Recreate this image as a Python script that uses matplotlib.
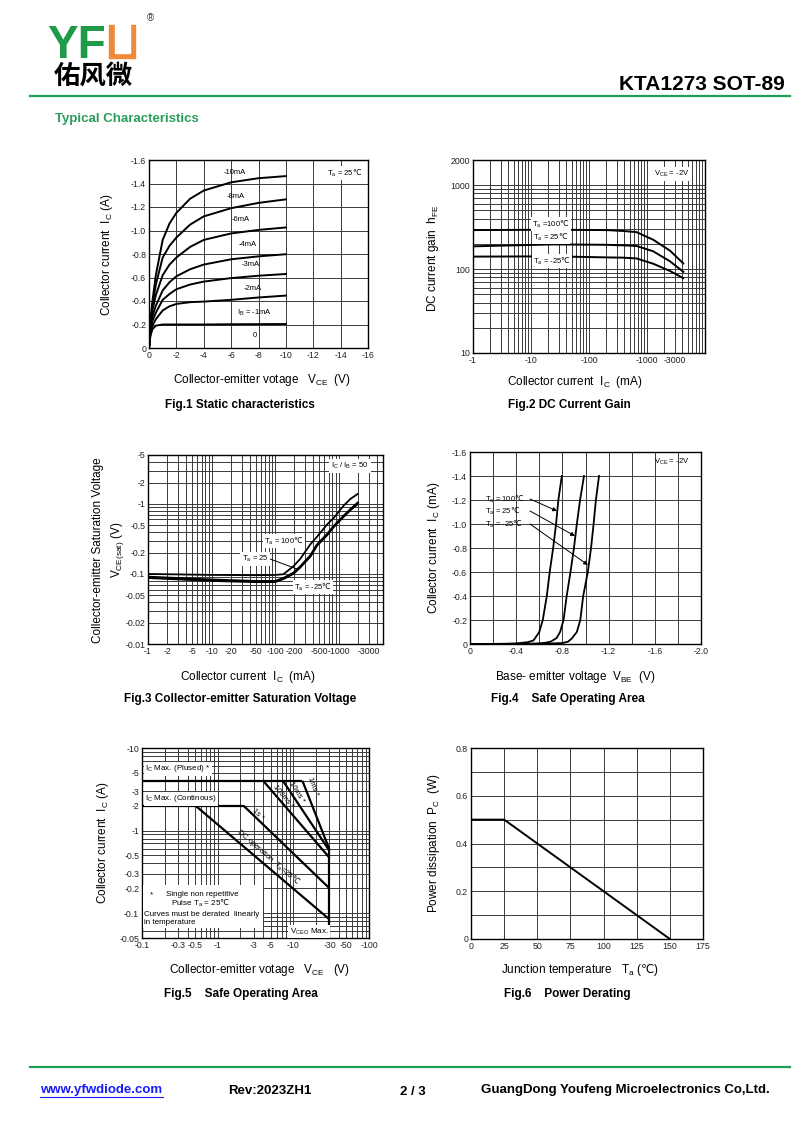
import numpy as np
import matplotlib
matplotlib.use("Agg")
import matplotlib.pyplot as plt
from matplotlib.patches import Rectangle
from matplotlib.ticker import FixedLocator, NullFormatter, LogLocator
from matplotlib.lines import Line2D

# ---- data ----
# Fig.1 static characteristics (|VCE| V, |IC| A)
vce1 = [0, 0.1, 0.25, 0.5, 1, 1.5, 2, 3, 4, 6, 8, 10]
ic_10ma = [0, 0.22, 0.40, 0.62, 0.92, 1.06, 1.15, 1.27, 1.34, 1.41, 1.445, 1.463]
ic_8ma = [0, 0.20, 0.36, 0.54, 0.77, 0.87, 0.94, 1.05, 1.12, 1.19, 1.235, 1.265]
ic_6ma = [0, 0.18, 0.32, 0.45, 0.62, 0.71, 0.77, 0.86, 0.92, 0.975, 1.005, 1.026]
ic_4ma = [0, 0.16, 0.27, 0.36, 0.49, 0.56, 0.61, 0.67, 0.71, 0.755, 0.78, 0.798]
ic_3ma = [0, 0.14, 0.23, 0.30, 0.41, 0.46, 0.50, 0.54, 0.565, 0.595, 0.615, 0.63]
ic_2ma = [0, 0.12, 0.19, 0.245, 0.32, 0.355, 0.375, 0.39, 0.395, 0.41, 0.43, 0.446]
ic_1ma = [0, 0.10, 0.16, 0.19, 0.20, 0.20, 0.20, 0.20, 0.20, 0.202, 0.203, 0.204]
fig1_labels = ["-10mA", "-8mA", "-6mA", "-4mA", "-3mA", "-2mA", "I$_\\mathregular{B}$ = -1mA", "0"]
fig1_lab_x = [6.3, 6.3, 6.7, 7.2, 7.4, 7.6, 7.7, 7.7]
fig1_lab_y = [1.49, 1.29, 1.09, 0.88, 0.71, 0.51, 0.30, 0.11]

# Fig.2 DC current gain (|IC| mA, hFE)
ic2 = [1, 24, 200, 390, 660, 1280, 2490, 4230]
hfe_100 = [292, 295, 292, 285, 276, 224, 166, 117]
hfe_25 = [187, 197, 195, 192, 189, 163, 124, 93]
hfe_m25 = [141, 142, 138, 137, 134, 116, 95, 78]

# Fig.3 saturation voltage (|IC| mA, |VCE(sat)| V)
ic3 = [1, 10, 50, 100, 135, 195, 250, 359, 457, 660, 835, 1200, 1535, 2000]
vsat_100 = [0.100, 0.097, 0.096, 0.097, 0.099, 0.129, 0.165, 0.265, 0.34, 0.51, 0.63, 0.945, 1.18, 1.39]
vsat_25 = [0.091, 0.083, 0.079, 0.079, 0.087, 0.104, 0.128, 0.183, 0.262, 0.37, 0.48, 0.675, 0.84, 1.04]
vsat_m25 = [0.088, 0.080, 0.077, 0.077, 0.085, 0.101, 0.125, 0.178, 0.255, 0.36, 0.47, 0.66, 0.82, 1.00]

# Fig.4 base-emitter voltage (|VBE| V, |IC| A)
vbe_100 = [0, 0.2, 0.3, 0.4, 0.5, 0.55, 0.6, 0.63, 0.665, 0.69, 0.72, 0.745, 0.765, 0.795]
ib_100 = [0, 0.001, 0.002, 0.005, 0.015, 0.03, 0.10, 0.2, 0.4, 0.6, 0.8, 1.0, 1.2, 1.4]
vbe_25 = [0, 0.4, 0.5, 0.6, 0.65, 0.7, 0.75, 0.78, 0.81, 0.837, 0.87, 0.9, 0.925, 0.953, 0.987]
ib_25 = [0, 0.001, 0.002, 0.005, 0.01, 0.02, 0.05, 0.1, 0.2, 0.4, 0.6, 0.8, 1.0, 1.2, 1.4]
vbe_m25 = [0, 0.5, 0.6, 0.7, 0.8, 0.85, 0.88, 0.925, 0.955, 0.98, 1.02, 1.048, 1.07, 1.09, 1.117]
ib_m25 = [0, 0.001, 0.002, 0.004, 0.008, 0.02, 0.045, 0.1, 0.2, 0.4, 0.6, 0.8, 1.0, 1.2, 1.4]

# Fig.5 safe operating area (|VCE| V, |IC| A)
soa_pulsed_v = [0.1, 13.2]
soa_pulsed_i = [4, 4]
soa_cont_v = [0.1, 2.2]
soa_cont_i = [2, 2]
soa_1ms_v = [13.2, 30]
soa_1ms_i = [4, 0.59]
soa_10ms_v = [7.3, 30]
soa_10ms_i = [4, 0.57]
soa_100ms_v = [4.0, 30]
soa_100ms_i = [4, 0.47]
soa_1s_v = [2.2, 30]
soa_1s_i = [2, 0.2]
soa_dc_v = [0.51, 30]
soa_dc_i = [2, 0.084]
soa_vceo_v = [30, 30]
soa_vceo_i = [0.59, 0.05]

# Fig.6 power derating
ta6 = [0, 25, 150]
pc6 = [0.5, 0.5, 0]

W, H = 800, 1131
GREEN = "#1f9d55"
plt.rcParams["font.family"] = ["Liberation Sans", "DejaVu Sans"]
plt.rcParams["mathtext.fontset"] = "custom"
plt.rcParams["mathtext.rm"] = "DejaVu Sans"
plt.rcParams["mathtext.it"] = "DejaVu Sans:italic"
plt.rcParams["mathtext.bf"] = "DejaVu Sans:bold"
DEG = "$\\mathrm{℃}$"
TA = "T$_\\mathregular{a}$"
fig = plt.figure(figsize=(8, 11.31), dpi=100)


def P(x, y):
    return (x / W, 1 - y / H)


def add_box(x0, y0, x1, y1):
    return fig.add_axes([x0 / W, 1 - y1 / H, (x1 - x0) / W, (y1 - y0) / H])


def style(ax):
    for s in ax.spines.values():
        s.set_linewidth(1.0)
        s.set_color("black")
    ax.tick_params(which="both", length=0, labelsize=6.3, pad=2, colors="#222")


def ftxt(x, y, s, **kw):
    fig.text(x / W, 1 - y / H, s, **kw)


def neg(vals, fmt="{:g}"):
    return ["0" if v == 0 else "-" + fmt.format(v) for v in vals]


GRID = dict(color="#3a3a3a", lw=0.7)
wb = dict(facecolor="white", edgecolor="none", pad=1)

# ---------------- header / footer ----------------
ftxt(47, 58, "YF", fontsize=33, fontweight="bold", color="#1e9a48", va="baseline", ha="left")
fig.patches.append(Rectangle(P(109, 58), 26 / W, 33 / H, transform=fig.transFigure, color="#ee8a3a"))
fig.patches.append(Rectangle(P(114.5, 52.5), 15 / W, 28 / H, transform=fig.transFigure, color="white"))
ftxt(150, 18, "®", fontsize=7, ha="center", va="center", color="#333")
ftxt(54, 76, "佑风微", fontsize=19, fontweight="bold", ha="left", va="center",
     family=["Noto Sans CJK SC", "DejaVu Sans"])
ftxt(785, 84, "KTA1273 SOT-89", fontsize=15, fontweight="bold", ha="right", va="center")
fig.add_artist(Line2D([30 / W, 790 / W], [1 - 96 / H] * 2, color=GREEN, lw=1.6))
ftxt(55, 119, "Typical Characteristics", fontsize=9.5, fontweight="bold", color="#2a9d5a", va="center")

fig.add_artist(Line2D([30 / W, 790 / W], [1 - 1067 / H] * 2, color=GREEN, lw=1.6))
ftxt(40, 1090, "www.yfwdiode.com", fontsize=9.5, fontweight="bold", color="#1a1aff", va="center")
fig.add_artist(Line2D([40 / W, 163 / W], [1 - 1097 / H] * 2, color="#1a1aff", lw=0.8))
ftxt(228, 1091, "Rev:2023ZH1", fontsize=9.5, fontweight="bold", va="center")
ftxt(400, 1092, "2 / 3", fontsize=9.5, fontweight="bold", va="center")
ftxt(481, 1090, "GuangDong Youfeng Microelectronics Co,Ltd.", fontsize=9.5, fontweight="bold", va="center")

# ---------------- Fig.1 ----------------
ax1 = add_box(149, 160, 368, 348)
style(ax1)
for ic in [ic_10ma, ic_8ma, ic_6ma, ic_4ma, ic_3ma, ic_2ma, ic_1ma]:
    ax1.plot(vce1, ic, color="black", lw=1.4)
ax1.set_xlim(0, 16)
ax1.set_ylim(0, 1.6)
xt = list(range(0, 17, 2))
ax1.set_xticks(xt)
ax1.set_xticklabels(neg(xt))
yt = [round(0.2 * i, 1) for i in range(9)]
ax1.set_yticks(yt)
ax1.set_yticklabels(neg(yt, "{:.1f}"))
ax1.grid(True, **GRID)
for s, x, y in zip(fig1_labels, fig1_lab_x, fig1_lab_y):
    ax1.text(x, y, s, fontsize=5.5, ha="center", va="center")
ax1.text(14.3, 1.49, TA + " = 25" + DEG, fontsize=5.5, ha="center", va="center", bbox=wb)
ftxt(107, 255, "Collector current  I$_\\mathregular{C}$ (A)", fontsize=8.5, rotation=90, ha="center", va="center")
ftxt(262, 380, "Collector-emitter votage   V$_\\mathregular{CE}$  (V)", fontsize=8.5, ha="center", va="center")
ftxt(240, 405, "Fig.1 Static characteristics", fontsize=8.5, fontweight="bold", ha="center", va="center")

# ---------------- Fig.2 ----------------
ax2 = add_box(473, 160, 705, 353)
style(ax2)
ax2.set_xscale("log")
ax2.set_yscale("log")
for h in [hfe_100, hfe_25, hfe_m25]:
    ax2.plot(ic2, h, color="black", lw=1.4)
ax2.set_xlim(1, 10000)
ax2.set_ylim(10, 2000)
xt2 = [1, 10, 100, 1000, 3000]
ax2.xaxis.set_major_locator(FixedLocator(xt2))
ax2.set_xticklabels(neg(xt2))
yt2 = [10, 100, 1000, 2000]
ax2.yaxis.set_major_locator(FixedLocator(yt2))
ax2.set_yticklabels([str(v) for v in yt2])
for a in (ax2.xaxis, ax2.yaxis):
    a.set_minor_locator(LogLocator(base=10, subs=np.arange(2, 10), numticks=50))
    a.set_minor_formatter(NullFormatter())
ax2.grid(True, which="both", **GRID)
ftxt(551, 224, TA + " =100" + DEG, fontsize=5.5, ha="center", va="center", bbox=wb)
ftxt(551, 237, TA + " = 25" + DEG, fontsize=5.5, ha="center", va="center", bbox=wb)
ftxt(552, 261, TA + " = -25" + DEG, fontsize=5.5, ha="center", va="center", bbox=wb)
ftxt(672, 174, "V$_\\mathregular{CE}$ = -2V", fontsize=5.5, ha="center", va="center",
     bbox=dict(facecolor="white", edgecolor="none", pad=1.5))
ftxt(433, 258, "DC current gain  h$_\\mathregular{FE}$", fontsize=8.5, rotation=90, ha="center", va="center")
ftxt(575, 382, "Collector current  I$_\\mathregular{C}$  (mA)", fontsize=8.5, ha="center", va="center")
ftxt(569, 405, "Fig.2 DC Current Gain", fontsize=8.5, fontweight="bold", ha="center", va="center")

# ---------------- Fig.3 ----------------
ax3 = add_box(148, 455, 383, 644)
style(ax3)
ax3.set_xscale("log")
ax3.set_yscale("log")
ax3.plot(ic3, vsat_100, color="black", lw=1.3)
ax3.plot(ic3, vsat_25, color="black", lw=1.6)
ax3.plot(ic3, vsat_m25, color="black", lw=1.6)
ax3.set_xlim(1, 5000)
ax3.set_ylim(0.01, 5)
xt3 = [1, 2, 5, 10, 20, 50, 100, 200, 500, 1000, 3000]
ax3.xaxis.set_major_locator(FixedLocator(xt3))
ax3.set_xticklabels(neg(xt3))
yt3 = [0.01, 0.02, 0.05, 0.1, 0.2, 0.5, 1, 2, 5]
ax3.yaxis.set_major_locator(FixedLocator(yt3))
ax3.set_yticklabels(neg(yt3))
for a in (ax3.xaxis, ax3.yaxis):
    a.set_minor_locator(LogLocator(base=10, subs=np.arange(2, 10), numticks=50))
    a.set_minor_formatter(NullFormatter())
ax3.grid(True, which="both", **GRID)
ftxt(284, 541, TA + " = 100" + DEG, fontsize=5.5, ha="center", va="center", bbox=wb)
ftxt(255, 559, TA + " = 25", fontsize=5.5, ha="center", va="center", bbox=wb)
fig.add_artist(Line2D([270 / W, 297 / W], [1 - 559 / H, 1 - 569 / H], color="black", lw=0.7))
ftxt(313, 587, TA + " = -25" + DEG, fontsize=5.5, ha="center", va="center", bbox=wb)
ftxt(350, 466, "I$_\\mathregular{C}$ / I$_\\mathregular{B}$ = 50", fontsize=5.5, ha="center", va="center",
     bbox=dict(facecolor="white", edgecolor="none", pad=1.5))
ftxt(98, 550, "Collector-emitter Saturation Voltage", fontsize=8.5, rotation=90, ha="center", va="center")
ftxt(117, 550, "V$_\\mathregular{CE(sat)}$ (V)", fontsize=8.5, rotation=90, ha="center", va="center")
ftxt(248, 677, "Collector current  I$_\\mathregular{C}$  (mA)", fontsize=8.5, ha="center", va="center")
ftxt(240, 699, "Fig.3 Collector-emitter Saturation Voltage", fontsize=8.5, fontweight="bold",
     ha="center", va="center")

# ---------------- Fig.4 ----------------
ax4 = add_box(470, 452, 701, 644)
style(ax4)
ax4.plot(vbe_100, ib_100, color="black", lw=1.3)
ax4.plot(vbe_25, ib_25, color="black", lw=1.3)
ax4.plot(vbe_m25, ib_m25, color="black", lw=1.3)
ax4.set_xlim(0, 2.0)
ax4.set_ylim(0, 1.6)
xt4 = [0, 0.4, 0.8, 1.2, 1.6, 2.0]
ax4.set_xticks(xt4)
ax4.set_xticklabels(neg(xt4, "{:.1f}"))
ax4.set_xticks([0.2, 0.6, 1.0, 1.4, 1.8], minor=True)
ax4.set_yticks(yt)
ax4.set_yticklabels(neg(yt, "{:.1f}"))
ax4.grid(True, which="both", **GRID)
arrow = dict(arrowstyle="-|>", lw=0.7, color="black", mutation_scale=6, shrinkA=0, shrinkB=0)
for label, ty, tip in [(TA + " = 100" + DEG, 499, (557, 511)),
                       (TA + " = 25" + DEG, 511, (575, 536)),
                       (TA + " = -25" + DEG, 524, (588, 565))]:
    fig.text(485 / W, 1 - ty / H, label, fontsize=5.5, ha="left", va="center")
    ax4.annotate("", xy=P(*tip), xycoords=fig.transFigure, xytext=P(530, ty),
                 textcoords=fig.transFigure, arrowprops=arrow)
ftxt(672, 462, "V$_\\mathregular{CE}$ = -2V", fontsize=5.5, ha="center", va="center")
ftxt(434, 548, "Collector current  I$_\\mathregular{C}$ (mA)", fontsize=8.5, rotation=90, ha="center", va="center")
ftxt(575, 677, "Base- emitter voltage  V$_\\mathregular{BE}$  (V)", fontsize=8.5, ha="center", va="center")
ftxt(568, 699, "Fig.4    Safe Operating Area", fontsize=8.5, fontweight="bold", ha="center", va="center")

# ---------------- Fig.5 ----------------
ax5 = add_box(142, 748, 369, 938)
style(ax5)
ax5.set_xscale("log")
ax5.set_yscale("log")
for v, i in [(soa_pulsed_v, soa_pulsed_i), (soa_cont_v, soa_cont_i), (soa_1ms_v, soa_1ms_i),
             (soa_10ms_v, soa_10ms_i), (soa_100ms_v, soa_100ms_i), (soa_1s_v, soa_1s_i),
             (soa_dc_v, soa_dc_i), (soa_vceo_v, soa_vceo_i)]:
    ax5.plot(v, i, color="black", lw=1.6, solid_capstyle="butt")
ax5.set_xlim(0.1, 100)
ax5.set_ylim(0.05, 10)
xt5 = [0.1, 0.3, 0.5, 1, 3, 5, 10, 30, 50, 100]
ax5.xaxis.set_major_locator(FixedLocator(xt5))
ax5.set_xticklabels(neg(xt5))
yt5 = [0.05, 0.1, 0.2, 0.3, 0.5, 1, 2, 3, 5, 10]
ax5.yaxis.set_major_locator(FixedLocator(yt5))
ax5.set_yticklabels(neg(yt5))
for a in (ax5.xaxis, ax5.yaxis):
    a.set_minor_locator(LogLocator(base=10, subs=np.arange(2, 10), numticks=50))
    a.set_minor_formatter(NullFormatter())
ax5.grid(True, which="both", **GRID)
ftxt(145, 769, "I$_\\mathregular{C}$ Max. (Plused) *", fontsize=5.8, ha="left", va="center", bbox=wb)
ftxt(145, 799, "I$_\\mathregular{C}$ Max. (Continous)", fontsize=5.8, ha="left", va="center", bbox=wb)
ftxt(313, 787, "1ms *", fontsize=5.5, ha="center", va="center", rotation=-69, rotation_mode="anchor")
ftxt(297, 792, "10ms *", fontsize=5.5, ha="center", va="center", rotation=-58, rotation_mode="anchor")
ftxt(283, 797, "100ms *", fontsize=5.5, ha="center", va="center", rotation=-50, rotation_mode="anchor")
ftxt(258, 815, "1s *", fontsize=5.5, ha="center", va="center", rotation=-44, rotation_mode="anchor")
ftxt(268, 857, "DC operation  " + TA + "=25" + DEG, fontsize=5.5, ha="center", va="center",
     rotation=-41, rotation_mode="anchor")
fig.patches.append(Rectangle(P(143, 928), 120 / W, 43 / H, transform=fig.transFigure,
                             facecolor="white", edgecolor="none", zorder=5))
ftxt(151, 895, "*", fontsize=5.8, ha="center", va="center", zorder=6)
ftxt(166, 895, "Single non repetitive", fontsize=5.8, ha="left", va="center", zorder=6)
ftxt(171, 903.5, "Pulse " + TA + " = 25" + DEG, fontsize=5.8, ha="left", va="center", zorder=6)
ftxt(144, 914.5, "Curves must be derated  linearly", fontsize=5.8, ha="left", va="center", zorder=6)
ftxt(144, 922.5, "in temperature", fontsize=5.8, ha="left", va="center", zorder=6)
ftxt(309, 931.5, "V$_\\mathregular{CEO}$ Max.", fontsize=5.8, ha="center", va="center", bbox=wb)
ftxt(103, 843, "Collector current  I$_\\mathregular{C}$ (A)", fontsize=8.5, rotation=90, ha="center", va="center")
ftxt(260, 970, "Collector-emitter votage   V$_\\mathregular{CE}$   (V)", fontsize=8.5, ha="center", va="center")
ftxt(241, 994, "Fig.5    Safe Operating Area", fontsize=8.5, fontweight="bold", ha="center", va="center")

# ---------------- Fig.6 ----------------
ax6 = add_box(471, 748, 703, 939)
style(ax6)
ax6.plot(ta6, pc6, color="black", lw=1.4)
ax6.set_xlim(0, 175)
ax6.set_ylim(0, 0.8)
xt6 = list(range(0, 176, 25))
ax6.set_xticks(xt6)
ax6.set_xticklabels([str(v) for v in xt6])
yt6 = [0, 0.2, 0.4, 0.6, 0.8]
ax6.set_yticks(yt6)
ax6.set_yticklabels(["0", "0.2", "0.4", "0.6", "0.8"])
ax6.set_yticks([0.1, 0.3, 0.5, 0.7], minor=True)
ax6.grid(True, which="both", **GRID)
ftxt(434, 843, "Power dissipation  P$_\\mathregular{C}$  (W)", fontsize=8.5, rotation=90, ha="center", va="center")
ftxt(580, 970, "Junction temperature   T$_\\mathregular{a}$ (" + DEG + ")", fontsize=8.5, ha="center", va="center")
ftxt(567, 994, "Fig.6    Power Derating", fontsize=8.5, fontweight="bold", ha="center", va="center")

fig.savefig("out.png", dpi=100, facecolor="white")
